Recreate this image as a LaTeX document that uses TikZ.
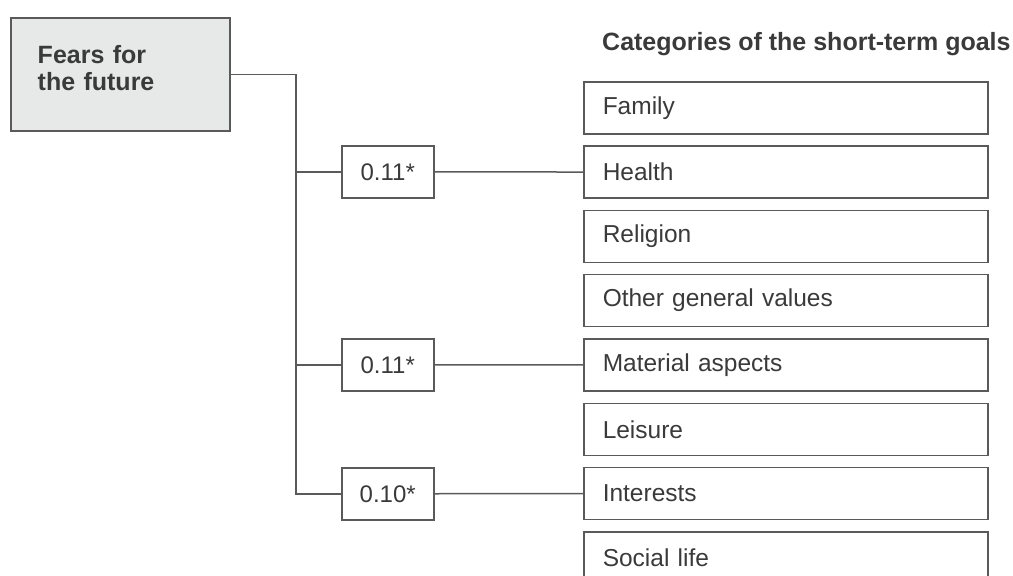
\documentclass[tikz,border=0pt]{standalone}
\usepackage{fontspec}
\setmainfont{Liberation Sans}
\definecolor{lncol}{HTML}{5A5A5A}
\definecolor{txcol}{HTML}{3A3A3A}
\definecolor{fearfill}{HTML}{E7E8E8}
\begin{document}
\begin{tikzpicture}[x=1pt,y=-1pt,
    box/.style={draw=lncol,line width=1.5pt,text=txcol,inner ysep=0pt,minimum height=52pt},
    goal/.style={box,anchor=north west,text width=366pt,inner xsep=19pt,align=left,font=\fontsize{24.5}{27}\selectfont},
    coef/.style={box,anchor=north west,minimum width=92pt,font=\fontsize{24}{27}\selectfont},
    link/.style={draw=lncol,line width=1.5pt}]
  \useasboundingbox (0,0) rectangle (1013,576); \clip (0,0) rectangle (1013,576);
  % predictor
  \node[box,fill=fearfill,anchor=north west,text width=165pt,inner xsep=27pt,align=left,
        text height=46pt,text depth=67pt,font=\bfseries\fontsize{25}{27}\selectfont] (fears) at (10,17) {Fears for\\the future};
  % goal categories
  \node[anchor=base west,inner sep=0pt,text=txcol,font=\bfseries\fontsize{25}{27}\selectfont] (title) at (602,50) {Categories of the short-term goals};
  \foreach \n/\t [count=\i from 0] in {family/Family,health/Health,religion/Religion,other/Other general values,
      material/Material aspects,leisure/Leisure,interests/Interests,social/Social life}
    \node[goal] (\n) at (583,{81+64.3*\i}) {\t};
  % coefficients
  \node[coef] (c1) at (341,145) {0.11*}; \node[coef] (c2) at (341,338) {0.11*}; \node[coef] (c3) at (341,467) {0.10*};
  \coordinate (trunk) at (296,72);
  \draw[link] (fears.east) -| (trunk |- c3.west) -- (c3.west);
  \draw[link] (trunk |- c1.west) -- (c1.west); \draw[link] (trunk |- c2.west) -- (c2.west);
  \draw[link] (c1.east) -- (health.west); \draw[link] (c2.east) -- (material.west); \draw[link] (c3.east) -- (interests.west);
\end{tikzpicture}
\end{document}
